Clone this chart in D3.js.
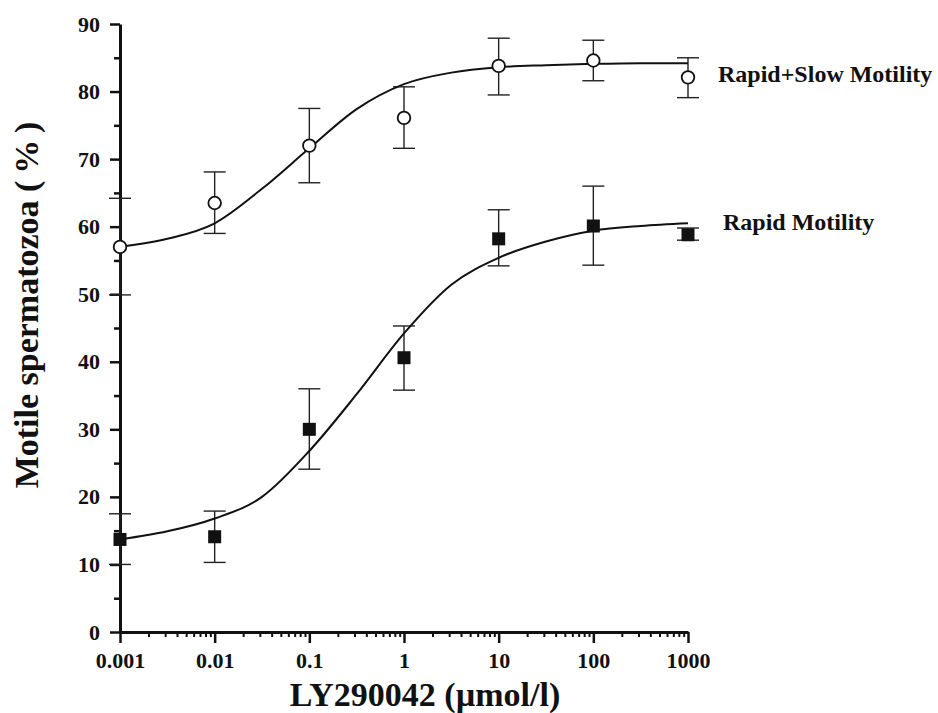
<!DOCTYPE html>
<html>
<head>
<meta charset="utf-8">
<script src="https://cdn.jsdelivr.net/npm/d3@7"></script>
<style>
  body { margin: 0; background: #fff; }
  svg text { font-weight: bold; fill: #111; }
</style>
</head>
<body>
<script>
// measured points (mean and error bar ends)
var concentrations = [0.001, 0.01, 0.1, 1, 10, 100, 1000];
var rapidSlowMean  = [57.0, 63.5, 72.0, 76.1, 83.8, 84.6, 82.1];
var rapidSlowUpper = [64.2, 68.1, 77.5, 80.7, 87.9, 87.6, 85.0];
var rapidSlowLower = [49.9, 59.0, 66.5, 71.6, 79.5, 81.6, 79.1];
var rapidMean  = [13.7, 14.1, 30.0, 40.6, 58.2, 60.1, 58.8];
var rapidUpper = [17.5, 17.9, 36.0, 45.3, 62.5, 66.0, 59.8];
var rapidLower = [10.0, 10.3, 24.1, 35.8, 54.2, 54.3, 58.0];

// fitted curves
var curveConc    = [0.001, 0.00316, 0.01, 0.0316, 0.1, 0.316, 1, 3.16, 10, 31.6, 100, 316, 1000];
var rapidSlowFit = [57.0, 58.2, 60.5, 65.6, 71.6, 77.4, 81.1, 82.8, 83.6, 83.9, 84.1, 84.2, 84.2];
var rapidFit     = [13.7, 14.9, 16.8, 20.0, 26.8, 35.2, 44.2, 51.4, 55.4, 57.8, 59.4, 60.1, 60.5];

var xTicks = [0.001, 0.01, 0.1, 1, 10, 100, 1000];
var xTickLabels = ["0.001", "0.01", "0.1", "1", "10", "100", "1000"];
var yTicks = [0, 10, 20, 30, 40, 50, 60, 70, 80, 90];
var yMinor = [5, 15, 25, 35, 45, 55, 65, 75, 85];

var serif = "'Liberation Serif', 'DejaVu Serif', serif";

function main() {
  document.body.innerHTML = '<svg width="938" height="713"></svg>';
  var svg = d3.select("svg");

  var x = d3.scaleLog().domain([0.001, 1000]).range([120, 688]);
  var y = d3.scaleLinear().domain([0, 90]).range([632, 24]);

  // minor ticks
  var xMinor = [];
  xTicks.slice(0, -1).forEach(function (d) {
    for (var k = 2; k <= 9; k++) xMinor.push(d * k);
  });

  svg.append("g")
    .attr("transform", "translate(0,632)")
    .call(d3.axisBottom(x).tickValues(xMinor).tickSize(5).tickSizeOuter(0).tickFormat(""))
    .call(function (g) { g.select(".domain").remove(); })
    .selectAll("line").attr("stroke", "#111").attr("stroke-width", 2);

  svg.append("g")
    .attr("transform", "translate(120,0)")
    .call(d3.axisLeft(y).tickValues(yMinor).tickSize(6).tickSizeOuter(0).tickFormat(""))
    .call(function (g) { g.select(".domain").remove(); })
    .selectAll("line").attr("stroke", "#111").attr("stroke-width", 2.5);

  var xAxis = svg.append("g")
    .attr("transform", "translate(0,632)")
    .call(d3.axisBottom(x).tickValues(xTicks).tickSize(11).tickSizeOuter(0)
      .tickPadding(9).tickFormat(function (d, i) { return xTickLabels[i]; }));
  xAxis.attr("font-family", serif).attr("font-size", 22).attr("font-weight", "bold");
  xAxis.select(".domain").attr("stroke", "#111").attr("stroke-width", 3);
  xAxis.selectAll(".tick line").attr("stroke", "#111").attr("stroke-width", 2.5);
  xAxis.selectAll("text").attr("fill", "#111");

  var yAxis = svg.append("g")
    .attr("transform", "translate(120,0)")
    .call(d3.axisLeft(y).tickValues(yTicks).tickSize(10).tickSizeOuter(0).tickPadding(10));
  yAxis.attr("font-family", serif).attr("font-size", 22).attr("font-weight", "bold");
  yAxis.select(".domain").attr("stroke", "#111").attr("stroke-width", 3);
  yAxis.selectAll(".tick line").attr("stroke", "#111").attr("stroke-width", 2.5);
  yAxis.selectAll("text").attr("fill", "#111");

  var series = [
    { mean: rapidSlowMean, up: rapidSlowUpper, lo: rapidSlowLower, fit: rapidSlowFit, shape: "circle" },
    { mean: rapidMean, up: rapidUpper, lo: rapidLower, fit: rapidFit, shape: "square" }
  ];

  var line = d3.line()
    .x(function (d) { return x(d[0]); })
    .y(function (d) { return y(d[1]); })
    .curve(d3.curveMonotoneX);

  series.forEach(function (s) {
    var pts = concentrations.map(function (c, i) { return { c: c, m: s.mean[i], u: s.up[i], l: s.lo[i] }; });
    var eb = svg.append("g").attr("stroke", "#222").attr("stroke-width", 1.4);
    eb.selectAll(".v").data(pts).enter().append("line")
      .attr("x1", function (d) { return x(d.c); }).attr("x2", function (d) { return x(d.c); })
      .attr("y1", function (d) { return y(d.u); }).attr("y2", function (d) { return y(d.l); });
    eb.selectAll(".cu").data(pts).enter().append("line")
      .attr("x1", function (d) { return x(d.c) - 11; }).attr("x2", function (d) { return x(d.c) + 11; })
      .attr("y1", function (d) { return y(d.u); }).attr("y2", function (d) { return y(d.u); });
    eb.selectAll(".cl").data(pts).enter().append("line")
      .attr("x1", function (d) { return x(d.c) - 11; }).attr("x2", function (d) { return x(d.c) + 11; })
      .attr("y1", function (d) { return y(d.l); }).attr("y2", function (d) { return y(d.l); });

    svg.append("path")
      .datum(curveConc.map(function (c, i) { return [c, s.fit[i]]; }))
      .attr("fill", "none").attr("stroke", "#111").attr("stroke-width", 2)
      .attr("d", line);

    if (s.shape === "circle") {
      svg.selectAll(null).data(pts).enter().append("circle")
        .attr("cx", function (d) { return x(d.c); })
        .attr("cy", function (d) { return y(d.m); })
        .attr("r", 6.3)
        .attr("fill", "#fff").attr("stroke", "#111").attr("stroke-width", 1.8);
    } else {
      svg.selectAll(null).data(pts).enter().append("rect")
        .attr("x", function (d) { return x(d.c) - 6.5; })
        .attr("y", function (d) { return y(d.m) - 6.5; })
        .attr("width", 13).attr("height", 13)
        .attr("fill", "#111");
    }
  });

  // series labels
  svg.append("text").attr("x", 718).attr("y", 82).attr("font-family", serif).attr("font-size", 24).text("Rapid+Slow Motility");
  svg.append("text").attr("x", 723).attr("y", 230).attr("font-family", serif).attr("font-size", 24).text("Rapid Motility");

  // axis titles
  svg.append("text").attr("x", 425).attr("y", 706).attr("text-anchor", "middle")
    .attr("font-family", serif).attr("font-size", 34).text("LY290042 (\u00b5mol/l)");
  svg.append("text").attr("transform", "translate(38,305) rotate(-90)").attr("text-anchor", "middle")
    .attr("font-family", serif).attr("font-size", 34).text("Motile spermatozoa (\u2009%\u2009)");
}

main();
</script>
</body>
</html>
